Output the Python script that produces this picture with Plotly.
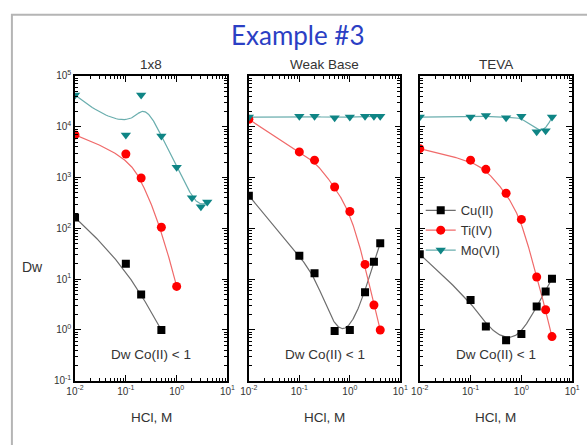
import numpy as np
import plotly.graph_objects as go

# ---------------- data ----------------
panels = ["1x8", "Weak Base", "TEVA"]

cu_x = [[0.01, 0.1, 0.2, 0.5],
        [0.01, 0.1, 0.2, 0.5, 1, 2, 3, 4],
        [0.01, 0.1, 0.2, 0.5, 1, 2, 3, 4]]
cu_y = [[163, 20, 5, 1.0],
        [440, 29, 13, 0.95, 1.0, 5.5, 22, 51],
        [31, 3.9, 1.17, 0.63, 0.83, 2.9, 5.7, 10.2]]

ti_x = [[0.01, 0.1, 0.2, 0.5, 1],
        [0.01, 0.1, 0.2, 0.5, 1, 2, 3, 4],
        [0.01, 0.1, 0.2, 0.5, 1, 2, 3, 4]]
ti_y = [[6900, 2900, 980, 105, 7.2],
        [14000, 3200, 2200, 650, 214, 19.5, 3.1, 1.0],
        [3700, 2200, 1450, 490, 150, 11, 2.5, 0.74]]

mo_x = [[0.01, 0.1, 0.2, 0.5, 1, 2, 3, 4],
        [0.01, 0.1, 0.2, 0.5, 1, 2, 3, 4],
        [0.01, 0.1, 0.2, 0.5, 1, 2, 3, 4]]
mo_y = [[42000, 6900, 42000, 6600, 1600, 400, 265, 330],
        [15500, 16000, 16000, 15000, 15500, 16000, 16000, 16000],
        [15500, 15500, 16600, 15000, 16000, 8000, 8300, 15500]]

series_names = ["Cu(II)", "Ti(IV)", "Mo(VI)"]
x_tick_vals = [0.01, 0.1, 1, 10]
x_tick_text = ["10<sup>-2</sup>", "10<sup>-1</sup>", "10<sup>0</sup>", "10<sup>1</sup>"]
y_tick_vals = [0.1, 1, 10, 100, 1000, 10000, 100000]
y_tick_text = ["10<sup>-1</sup>", "10<sup>0</sup>", "10<sup>1</sup>", "10<sup>2</sup>",
               "10<sup>3</sup>", "10<sup>4</sup>", "10<sup>5</sup>"]


# clamped cubic B-spline using the data points as control points (log-log space)
def bspline(xs, ys, n=200):
    px = np.log10(np.array(xs, float))
    py = np.log10(np.array(ys, float))
    m = len(px)
    k = min(3, m - 1)
    inner = np.linspace(0, 1, m - k + 1)
    knots = np.concatenate([np.zeros(k), inner, np.ones(k)])

    def basis(i, p, t):
        if p == 0:
            if knots[i] <= t < knots[i + 1] or (t == 1.0 and knots[i] < knots[i + 1] == 1.0):
                return 1.0
            return 0.0
        a = 0.0
        d1 = knots[i + p] - knots[i]
        if d1 > 0:
            a += (t - knots[i]) / d1 * basis(i, p - 1, t)
        d2 = knots[i + p + 1] - knots[i + 1]
        if d2 > 0:
            a += (knots[i + p + 1] - t) / d2 * basis(i + 1, p - 1, t)
        return a

    ts = np.linspace(0, 1, n)
    cx, cy = [], []
    for t in ts:
        b = np.array([basis(i, k, t) for i in range(m)])
        cx.append(float(b @ px))
        cy.append(float(b @ py))
    return list(10 ** np.array(cx)), list(10 ** np.array(cy))


W, H = 587, 445
x_domains = [[68 / W, 225 / W], [247 / W, 403 / W], [423 / W, 580 / W]]
y_domain = [1 - 385 / H, 1 - 71 / H]

styles = [
    dict(marker=dict(symbol="square", size=8, color="#000000"), line="#6e6e6e"),
    dict(marker=dict(symbol="circle", size=9, color="#ff0000"), line="#f06a6a"),
    dict(marker=dict(symbol="triangle-down", size=9, color="#0f8585"), line="#6aaeae"),
]

fig = go.Figure()
all_x = [cu_x, ti_x, mo_x]
all_y = [cu_y, ti_y, mo_y]

for p in range(3):
    xa = "x" if p == 0 else f"x{p + 1}"
    ya = "y" if p == 0 else f"y{p + 1}"
    for s in range(3):
        xs, ys = all_x[s][p], all_y[s][p]
        st = styles[s]
        cx, cy = bspline(xs, ys)
        fig.add_trace(go.Scatter(x=cx, y=cy, mode="lines", xaxis=xa, yaxis=ya,
                                 line=dict(color=st["line"], width=1.2),
                                 showlegend=False, hoverinfo="skip"))
    for s in range(3):
        xs, ys = all_x[s][p], all_y[s][p]
        st = styles[s]
        fig.add_trace(go.Scatter(x=xs, y=ys, mode="markers", xaxis=xa, yaxis=ya,
                                 marker=st["marker"], name=series_names[s],
                                 showlegend=False))

# legend entries (line + marker)
for s in range(3):
    st = styles[s]
    fig.add_trace(go.Scatter(x=[None], y=[None], mode="lines+markers", xaxis="x3", yaxis="y3",
                             marker=st["marker"], line=dict(color=st["line"], width=1.2),
                             name=series_names[s], showlegend=True))

axis_font = dict(family="Liberation Sans, Arial", size=10, color="#333333")
minor_x = [m * 10 ** e for e in range(-2, 1) for m in range(2, 10)]
minor_y = [m * 10 ** e for e in range(-1, 5) for m in range(2, 10)]

layout = dict(
    width=W, height=H, margin=dict(l=0, r=0, t=0, b=0),
    paper_bgcolor="white", plot_bgcolor="white",
    legend=dict(x=424 / W, y=1 - 194 / H, xanchor="left", yanchor="top",
                bgcolor="rgba(0,0,0,0)", font=dict(family="Liberation Sans, Arial", size=13, color="#333333"),
                tracegroupgap=0, itemwidth=30),
    showlegend=True,
)
for p in range(3):
    xk = "xaxis" if p == 0 else f"xaxis{p + 1}"
    yk = "yaxis" if p == 0 else f"yaxis{p + 1}"
    layout[xk] = dict(type="log", range=[-2, 1], domain=x_domains[p],
                      anchor="y" if p == 0 else f"y{p + 1}",
                      tickmode="array", tickvals=x_tick_vals, ticktext=x_tick_text,
                      ticks="inside", ticklen=6, tickwidth=1.2, tickcolor="black",
                      showline=True, linecolor="black", linewidth=1.5, mirror="ticks",
                      showgrid=False, zeroline=False, tickfont=axis_font,
                      minor=dict(tickmode="array", tickvals=minor_x, ticks="inside",
                                 ticklen=3.5, tickcolor="black", showgrid=False))
    layout[yk] = dict(type="log", range=[-1, 5], domain=y_domain,
                      anchor="x" if p == 0 else f"x{p + 1}",
                      tickmode="array", tickvals=y_tick_vals,
                      ticktext=y_tick_text if p == 0 else [""] * len(y_tick_vals),
                      ticks="inside", ticklen=6, tickwidth=1.2, tickcolor="black",
                      showline=True, linecolor="black", linewidth=1.5, mirror="ticks",
                      showgrid=False, zeroline=False, tickfont=axis_font,
                      minor=dict(tickmode="array", tickvals=minor_y, ticks="inside",
                                 ticklen=3.5, tickcolor="black", showgrid=False))
fig.update_layout(**layout)

annots = []
text_font = dict(family="Liberation Sans, Arial", size=13.5, color="#333333")
for p in range(3):
    cxp = (x_domains[p][0] + x_domains[p][1]) / 2
    annots.append(dict(text=panels[p], x=cxp, y=1 - 59 / H, xref="paper", yref="paper",
                       showarrow=False, font=text_font, xanchor="center", yanchor="middle"))
    annots.append(dict(text="Dw Co(II) < 1", x=cxp, y=1 - 358 / H, xref="paper", yref="paper",
                       showarrow=False, font=dict(family="Liberation Sans, Arial", size=13.5, color="#333333"),
                       xanchor="center", yanchor="middle"))
    annots.append(dict(text="HCl, M", x=cxp, y=1 - 423 / H, xref="paper", yref="paper",
                       showarrow=False, font=dict(family="Liberation Sans, Arial", size=13.5, color="#333333"),
                       xanchor="center", yanchor="middle"))
annots.append(dict(text="Dw", x=24 / W, y=1 - 268 / H, xref="paper", yref="paper",
                   showarrow=False, font=dict(family="Liberation Sans, Arial", size=14, color="#333333"),
                   xanchor="center", yanchor="middle"))
annots.append(dict(text="Example #3", x=298 / W, y=1 - 29 / H, xref="paper", yref="paper",
                   showarrow=False, font=dict(family="Lato, Open Sans", size=26, color="#2b3fc4"),
                   xanchor="center", yanchor="middle"))
fig.update_layout(annotations=annots)

fig.add_shape(type="rect", xref="paper", yref="paper", x0=3 / W, x1=1.05, y0=-0.05, y1=1 - 8 / H,
              line=dict(color="#b5b5b5", width=2), fillcolor="rgba(0,0,0,0)", layer="below")

fig.write_html("out.html", config={"displayModeBar": False},
               post_script="document.body.style.margin='0';document.body.style.overflow='hidden';")
